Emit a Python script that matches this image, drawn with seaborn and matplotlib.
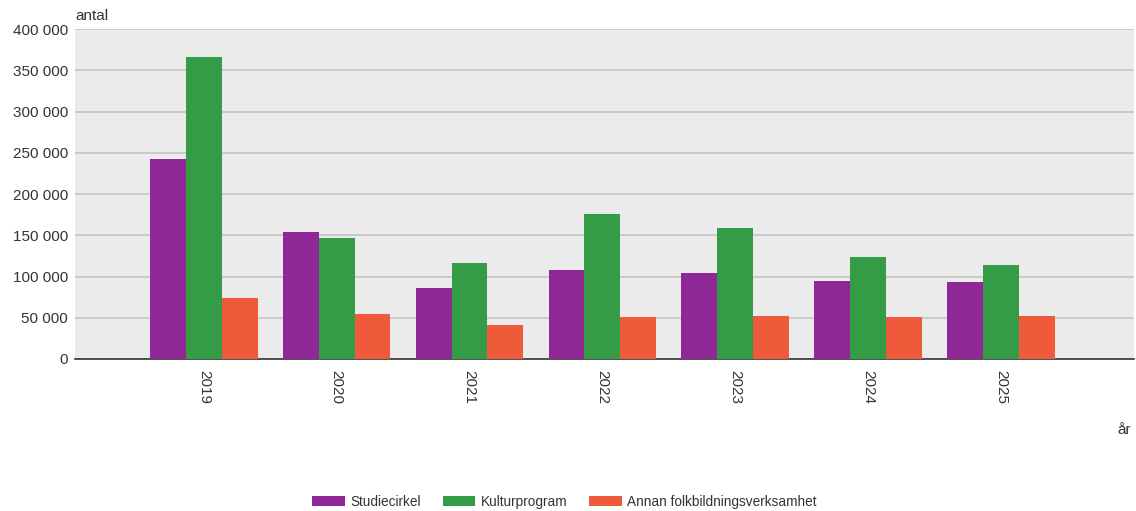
import matplotlib
matplotlib.use("Agg")
import matplotlib.pyplot as plt
import matplotlib.ticker as mticker
import seaborn as sns
import pandas as pd

years = ["2019", "2020", "2021", "2022", "2023", "2024", "2025"]
series_names = ["Studiecirkel", "Kulturprogram", "Annan folkbildningsverksamhet"]
studiecirkel = [242000, 154000, 85500, 107500, 104000, 94500, 93000]
kulturprogram = [366000, 146500, 116500, 176000, 158500, 124000, 113500]
annan = [74000, 54000, 41500, 50500, 52500, 50500, 52500]
colors = ["#8f2896", "#349b47", "#ef5a3a"]

df = pd.DataFrame({
    "år": years * 3,
    "serie": [series_names[0]] * 7 + [series_names[1]] * 7 + [series_names[2]] * 7,
    "antal": studiecirkel + kulturprogram + annan,
})

sns.set_theme(style="white")
plt.rcParams["font.family"] = ["Liberation Sans", "DejaVu Sans"]

fig = plt.figure(figsize=(11.36, 5.11), dpi=100)
ax = fig.add_axes([0.066, 0.2975, 0.932, 0.6455])
sns.barplot(data=df, x="år", y="antal", hue="serie", palette=colors,
            width=0.81, saturation=1, ax=ax, legend=True, zorder=3,
            linewidth=0, edgecolor="none")

ax.set_facecolor("#ebebeb")
ax.set_ylim(0, 400000)
ax.set_xlim(-0.97, 7.0)
ax.yaxis.set_major_locator(mticker.MultipleLocator(50000))
ax.yaxis.set_major_formatter(mticker.FuncFormatter(lambda v, p: f"{int(v):,}".replace(",", " ")))
ax.grid(axis="y", color="#c4c4c4", linewidth=1.2, zorder=0)
ax.set_axisbelow(True)
for s in ["top", "right", "left"]:
    ax.spines[s].set_visible(False)
ax.spines["bottom"].set_color("#333333")
ax.spines["bottom"].set_linewidth(1.2)
ax.tick_params(axis="y", length=0, labelsize=11, labelcolor="#333333", pad=5)
ax.tick_params(axis="x", length=0, labelsize=11, labelcolor="#333333", pad=8)
plt.setp(ax.get_xticklabels(), rotation=270)
ax.set_xlabel("")
ax.set_ylabel("")
fig.text(0.066, 0.955, "antal", fontsize=11, color="#333333", ha="left", va="bottom")
fig.text(0.996, 0.158, "år", fontsize=11, color="#333333", ha="right", va="center")

handles, labels = ax.get_legend_handles_labels()
ax.get_legend().remove()
fig.legend(handles, labels, loc="center", bbox_to_anchor=(0.497, 0.018), ncol=3,
           frameon=False, fontsize=9.8, handlelength=2.4, handleheight=0.8,
           columnspacing=1.6, handletextpad=0.4, labelcolor="#333333")

fig.savefig("out.png", dpi=100)
